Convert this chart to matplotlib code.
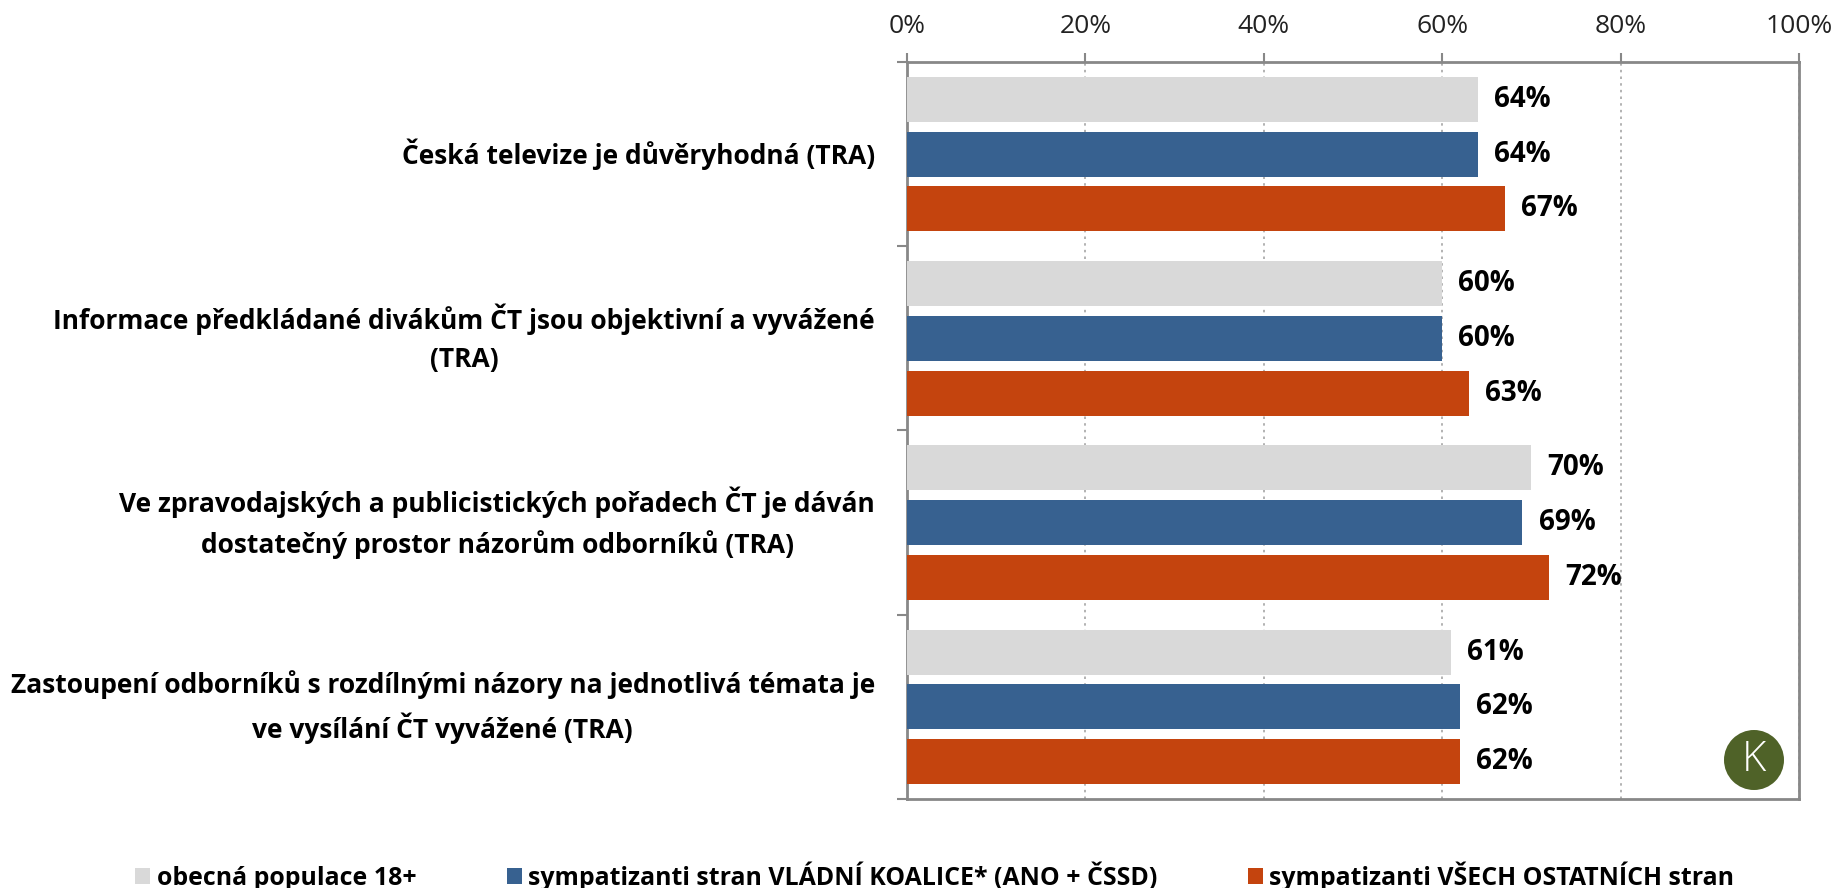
import matplotlib
matplotlib.use("Agg")
import matplotlib.pyplot as plt
from matplotlib.patches import Circle
import numpy as np

categories = [
    "Česká televize je důvěryhodná (TRA)",
    "Informace předkládané divákům ČT jsou objektivní a vyvážené\n(TRA)",
    "Ve zpravodajských a publicistických pořadech ČT je dáván\ndostatečný prostor názorům odborníků (TRA)",
    "Zastoupení odborníků s rozdílnými názory na jednotlivá témata je\nve vysílání ČT vyvážené (TRA)",
]
series_names = [
    "obecná populace 18+",
    "sympatizanti stran VLÁDNÍ KOALICE* (ANO + ČSSD)",
    "sympatizanti VŠECH OSTATNÍCH stran",
]
populace = [64, 60, 70, 61]
koalice = [64, 60, 69, 62]
ostatni = [67, 63, 72, 62]
xticks = [0, 20, 40, 60, 80, 100]
xtick_labels = ["0%", "20%", "40%", "60%", "80%", "100%"]

colors = ["#d9d9d9", "#376190", "#c4440e"]
FONT = ["Open Sans", "DejaVu Sans"]
plt.rcParams["font.family"] = FONT

fig = plt.figure(figsize=(18.35, 8.88), dpi=100)
ax = fig.add_axes([907 / 1835, 1 - 799 / 888, (1799 - 907) / 1835, (799 - 62) / 888])

y = np.arange(len(categories))
bh = 45 / 185
pitch = 55 / 185
handles = []
for k, (vals, c, name) in enumerate(zip([populace, koalice, ostatni], colors, series_names)):
    pos = y + (k - 1) * pitch
    b = ax.barh(pos, vals, height=bh, color=c, label=name, zorder=3)
    handles.append(b)
    for p, v in zip(pos, vals):
        ax.text(v + 1.8, p, f"{v}%", va="center", ha="left", fontsize=20,
                fontweight="bold", color="black", zorder=4)

ax.set_xlim(0, 100)
ax.set_ylim(len(categories) - 0.5, -0.5)
ax.xaxis.tick_top()
ax.set_xticks(xticks)
ax.set_xticklabels(xtick_labels, fontsize=19, color="#222222")
ax.tick_params(axis="x", length=6.5, width=1.5, color="#888888", pad=10)
ax.set_yticks(np.arange(len(categories) + 1) - 0.5, minor=False)
ax.set_yticklabels([])
ax.tick_params(axis="y", length=7, width=1.5, color="#888888")
for v in y:
    ax.text(-0.036, v, categories[v], transform=ax.get_yaxis_transform(),
            ha="right", va="center", multialignment="center", fontsize=19.0,
            fontweight="bold", linespacing=1.55)

ax.grid(axis="x", linestyle=(0, (1.5, 2.5)), color="#a6a6a6", linewidth=1.2, zorder=0)
ax.grid(axis="y", visible=False)
for s in ax.spines.values():
    s.set_color("#888888")
    s.set_linewidth(2)

leg = fig.legend(handles=handles, loc="center", bbox_to_anchor=(0.5095, 1 - 876 / 888),
                 ncol=3, frameon=False, handlelength=0.6,
                 handleheight=0.62, handletextpad=0.25, columnspacing=3.65,
                 prop={"weight": "bold", "size": 17.9})

fig.add_artist(Circle((17.54, 8.88 - 7.60), 0.30, transform=fig.dpi_scale_trans,
                      facecolor="#4f6228", edgecolor="none"))
fig.text(17.54, 8.88 - 7.60, "K", transform=fig.dpi_scale_trans, ha="center",
         va="center", color="white", fontsize=30, fontweight="light")

fig.savefig("out.png", dpi=100)
